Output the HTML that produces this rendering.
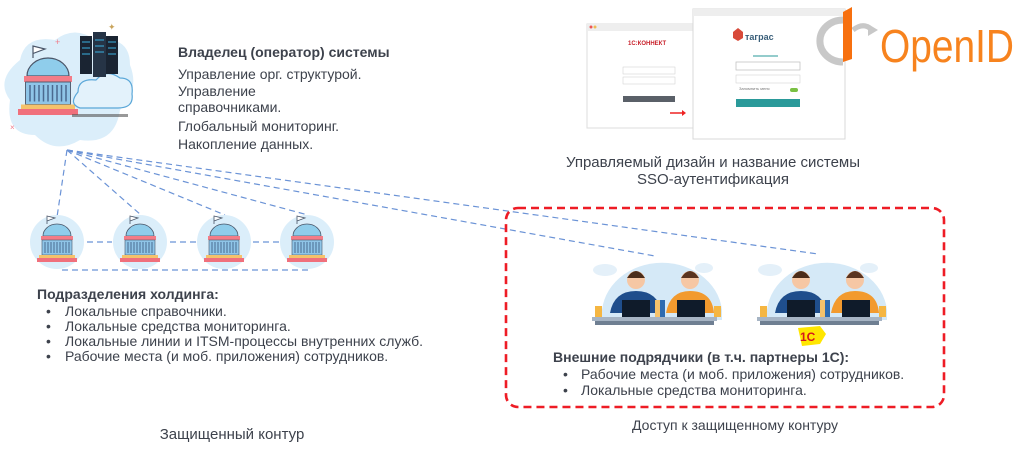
<!DOCTYPE html>
<html><head><meta charset="utf-8"><style>
html,body{margin:0;padding:0;background:#fff;}
svg{display:block;}
text{font-family:"Liberation Sans","DejaVu Sans",sans-serif;fill:#3d424c;}
.b{font-weight:bold;}
</style></head><body>
<svg width="1024" height="450" viewBox="0 0 1024 450" xmlns="http://www.w3.org/2000/svg">
<defs>
<g id="bld">
  <path d="M-10,-20 v-8 l8,2 -8,3" fill="#fff" stroke="#4a5568" stroke-width="0.8"/>
  <path d="M-14,-8 a14,12 0 0 1 28,0 z" fill="#8fcdeb" stroke="#4a5568" stroke-width="0.8"/>
  <rect x="-16" y="-8" width="32" height="4" fill="#f37c87"/>
  <rect x="-15" y="-4" width="30" height="15" fill="#8fc5e8" stroke="#4a5568" stroke-width="0.6"/>
  <path d="M-12,-2v11M-9,-2v11M-6,-2v11M-3,-2v11M0,-2v11M3,-2v11M6,-2v11M9,-2v11M12,-2v11" stroke="#4a6a90" stroke-width="1"/>
  <rect x="-18" y="11" width="36" height="3" fill="#f5c26b"/>
  <rect x="-20" y="14" width="40" height="4" fill="#f0707c"/>
</g>
<g id="team">
  <path d="M10,62 a60,52 0 0 1 120,-10 v10z" fill="#d5e9f7"/>
  <ellipse cx="13" cy="12" rx="12" ry="6" fill="#e4f0f9"/>
  <ellipse cx="112" cy="10" rx="9" ry="5" fill="#e4f0f9"/>
  <path d="M18,55 q4,-22 26,-22 q22,0 26,22z" fill="#1f4e8c"/>
  <circle cx="44" cy="22" r="9" fill="#f6c7a4"/><path d="M35,20 q9,-14 18,0z" fill="#4a2c1a"/>
  <path d="M74,55 q4,-22 24,-22 q22,0 24,22z" fill="#f29a2e"/>
  <circle cx="98" cy="22" r="9" fill="#f6c7a4"/><path d="M89,20 q9,-14 18,0z" fill="#5a3420"/>
  <rect x="30" y="42" width="28" height="17" fill="#0f1b2a"/>
  <rect x="85" y="42" width="28" height="17" fill="#0f1b2a"/>
  <rect x="63" y="42" width="5" height="17" fill="#f5c26b"/><rect x="68" y="42" width="5" height="17" fill="#2e6bb0"/>
  <rect x="3" y="48" width="7" height="11" fill="#f5b642"/><rect x="122" y="48" width="7" height="11" fill="#f5b642"/>
  <rect x="0" y="59" width="125" height="4" fill="#a6b4c4"/>
  <rect x="3" y="63" width="119" height="4" fill="#6f7f92"/>
</g>
</defs>

<!-- owner icon -->
<path d="M20,60 q5,-25 35,-20 q20,-15 40,0 q35,-5 35,25 q10,25 -10,45 q-5,35 -40,30 q-25,15 -45,-5 q-30,0 -25,-35 q-15,-20 10,-40z" fill="#dbeefa"/>
<g transform="translate(48,88) scale(1.5)"><use href="#bld"/></g>
<path d="M78,92 q0,-14 18,-12 q10,-12 24,-2 q14,0 12,16 q2,14 -14,14 h-38 q-12,-4 -2,-16z" fill="#e3f2fb" stroke="#5aa7d8" stroke-width="1.2"/>
<rect x="80" y="36" width="12" height="38" fill="#1a2432"/><rect x="93" y="32" width="13" height="45" fill="#263446"/><rect x="106" y="36" width="12" height="38" fill="#1a2432"/>
<path d="M82,42h8M82,48h8M82,54h8M95,40h9M95,46h9M95,52h9M108,42h8M108,48h8M108,54h8" stroke="#3ab0e0" stroke-width="1"/>
<rect x="72" y="114" width="56" height="3" fill="#555" opacity="0.6"/>
<text x="55" y="45" font-size="9" style="fill:#f07c8a">+</text>
<text x="108" y="30" font-size="9" style="fill:#c9a45c">✦</text>
<text x="10" y="130" font-size="8" style="fill:#f07c8a">×</text>

<text class="b" x="178" y="57" font-size="14">Владелец (оператор) системы</text>
<text x="178" y="79" font-size="14">Управление орг. структурой.</text>
<text x="178" y="96" font-size="14">Управление</text>
<text x="178" y="112" font-size="14">справочниками.</text>
<text x="178" y="131" font-size="14">Глобальный мониторинг.</text>
<text x="178" y="149" font-size="14">Накопление данных.</text>

<!-- connectors -->
<g stroke="#6b93d6" stroke-width="1.2" stroke-dasharray="6,4" fill="none">
  <path d="M67,150 L57,217"/>
  <path d="M67,150 L141,215"/>
  <path d="M67,150 L225,215"/>
  <path d="M67,150 L308,215"/>
  <path d="M67,150 L655,256"/>
  <path d="M67,150 L818,254"/>
  <path d="M87,242 H112 M170,242 H196 M253,242 H279"/>
  <path d="M62,270 H308"/>
</g>

<g>
  <circle cx="57" cy="242" r="27" fill="#dbeefa"/><g transform="translate(57,244)"><use href="#bld"/></g>
  <circle cx="140" cy="242" r="27" fill="#dbeefa"/><g transform="translate(140,244)"><use href="#bld"/></g>
  <circle cx="224" cy="242" r="27" fill="#dbeefa"/><g transform="translate(224,244)"><use href="#bld"/></g>
  <circle cx="307" cy="242" r="27" fill="#dbeefa"/><g transform="translate(307,244)"><use href="#bld"/></g>
</g>

<text class="b" x="37" y="299" font-size="14">Подразделения холдинга:</text>
<g font-size="14">
<text x="46" y="316">•</text><text x="65" y="316">Локальные справочники.</text>
<text x="46" y="331">•</text><text x="65" y="331">Локальные средства мониторинга.</text>
<text x="46" y="346">•</text><text x="65" y="346">Локальные линии и ITSM-процессы внутренних служб.</text>
<text x="46" y="361">•</text><text x="65" y="361">Рабочие места (и моб. приложения) сотрудников.</text>
</g>
<text x="232" y="439" font-size="15" text-anchor="middle">Защищенный контур</text>

<rect x="506" y="208" width="438" height="199" rx="12" fill="none" stroke="#ee1c25" stroke-width="2.6" stroke-dasharray="8,5"/>

<g transform="translate(592,258)"><use href="#team"/></g>
<g transform="translate(757,258)"><use href="#team"/></g>
<path d="M798,328 l22,-2 6,8 -6,10 -18,2z" fill="#ffe600"/>
<text class="b" x="800" y="341" font-size="12" style="fill:#d5161c">1С</text>

<text class="b" x="553" y="362" font-size="14">Внешние подрядчики (в т.ч. партнеры 1С):</text>
<g font-size="14">
<text x="563" y="379">•</text><text x="581" y="379">Рабочие места (и моб. приложения) сотрудников.</text>
<text x="563" y="395">•</text><text x="581" y="395">Локальные средства мониторинга.</text>
</g>
<text x="735" y="430" font-size="14" text-anchor="middle">Доступ к защищенному контуру</text>

<!-- screenshots -->
<rect x="587" y="24" width="114" height="104" fill="#fff" stroke="#ddd" stroke-width="1"/>
<rect x="587" y="24" width="114" height="7" fill="#eee"/>
<circle cx="591" cy="27" r="1.5" fill="#e55"/><circle cx="595" cy="27" r="1.5" fill="#eb5"/>
<text x="628" y="45" font-size="6" class="b" style="fill:#c8202a">1С:КОННЕКТ</text>
<rect x="623" y="67" width="52" height="7" fill="#fff" stroke="#ccc" stroke-width="0.5"/>
<rect x="623" y="77" width="52" height="7" fill="#fff" stroke="#ccc" stroke-width="0.5"/>
<rect x="623" y="96" width="52" height="6" fill="#5a6068"/>
<path d="M670,113 h12" stroke="#e22" stroke-width="1.5"/><path d="M682,110 l4,3 -4,3z" fill="#e22"/>
<rect x="693" y="9" width="152" height="130" fill="#fff" stroke="#d8d8d8" stroke-width="1"/>
<rect x="693" y="9" width="152" height="7" fill="#eee"/>
<text x="745" y="40" font-size="9" class="b" style="fill:#3a5f7a">таграс</text>
<path d="M733,32 l5,-4 5,4 v6 l-5,3 -5,-3z" fill="#d84a3a"/>
<path d="M753,56 h25" stroke="#2a9a9a" stroke-width="1"/>
<rect x="736" y="62" width="64" height="8" fill="#fff" stroke="#bbb" stroke-width="0.7"/>
<rect x="736" y="75" width="64" height="8" fill="#fff" stroke="#ccc" stroke-width="0.5"/>
<rect x="790" y="88" width="8" height="4" rx="2" fill="#7ac043"/>
<rect x="736" y="99" width="64" height="8" fill="#2a9a9a"/>
<text x="739" y="90" font-size="4" style="fill:#777">Запомнить меня</text>

<!-- OpenID -->
<path d="M843,20 a22,20 0 1 0 0,42" fill="none" stroke="#c8c8c8" stroke-width="7"/>
<path d="M853,30 q10,-8 18,-1" fill="none" stroke="#c8c8c8" stroke-width="5"/>
<path d="M868,24 l10,6 -10,6z" fill="#c8c8c8"/>
<path d="M843,12 l9,-5 v52 l-9,3z" fill="#f7700f"/>
<text x="880" y="62" font-size="46" textLength="134" lengthAdjust="spacingAndGlyphs" style="fill:#f7831e">OpenID</text>

<text x="713" y="167" font-size="15" text-anchor="middle">Управляемый дизайн и название системы</text>
<text x="713" y="184" font-size="15" text-anchor="middle">SSO-аутентификация</text>
</svg>
</body></html>
